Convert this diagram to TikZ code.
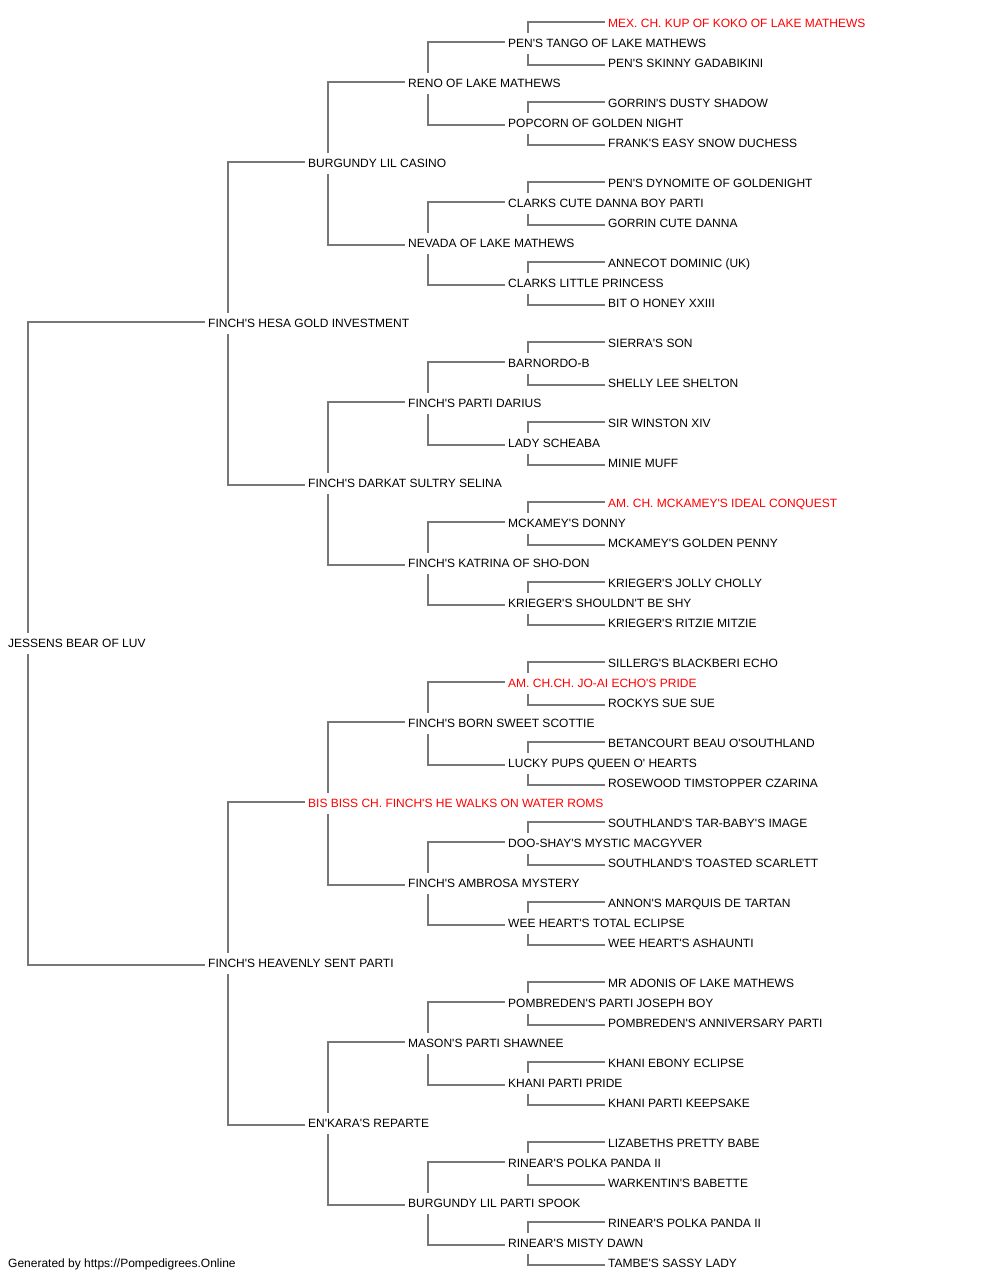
\documentclass[tikz,border=0pt]{standalone}
\usepackage{fontspec}
\setmainfont{Liberation Sans}[Ligatures=TeXOff]
\definecolor{ln}{RGB}{119,119,119}
\definecolor{rd}{RGB}{255,0,0}
\tikzset{
  pn/.style={anchor=west, inner xsep=0pt, inner ysep=5.7pt, text height=8.6pt, text depth=0pt, font=\fontsize{12}{14}\selectfont, text=black},
  rn/.style={pn, text=rd},
  conn/.style={draw=ln, line width=1.3pt}
}
\begin{document}
\begin{tikzpicture}[x=1pt,y=-1pt]
\useasboundingbox (0,0) rectangle (1000,1280);
% generation 0
\node[pn] (p0x0) at (8,643.4) {JESSENS BEAR OF LUV};
% generation 1
\node[pn] (p1x0) at (208,323.4) {FINCH'S HESA GOLD INVESTMENT};
\node[pn] (p1x1) at (208,963.4) {FINCH'S HEAVENLY SENT PARTI};
% generation 2
\node[pn] (p2x0) at (308,163.4) {BURGUNDY LIL CASINO};
\node[pn] (p2x1) at (308,483.4) {FINCH'S DARKAT SULTRY SELINA};
\node[rn] (p2x2) at (308,803.4) {BIS BISS CH. FINCH'S HE WALKS ON WATER ROMS};
\node[pn] (p2x3) at (308,1123.4) {EN'KARA'S REPARTE};
% generation 3
\node[pn] (p3x0) at (408,83.4) {RENO OF LAKE MATHEWS};
\node[pn] (p3x1) at (408,243.4) {NEVADA OF LAKE MATHEWS};
\node[pn] (p3x2) at (408,403.4) {FINCH'S PARTI DARIUS};
\node[pn] (p3x3) at (408,563.4) {FINCH'S KATRINA OF SHO-DON};
\node[pn] (p3x4) at (408,723.4) {FINCH'S BORN SWEET SCOTTIE};
\node[pn] (p3x5) at (408,883.4) {FINCH'S AMBROSA MYSTERY};
\node[pn] (p3x6) at (408,1043.4) {MASON'S PARTI SHAWNEE};
\node[pn] (p3x7) at (408,1203.4) {BURGUNDY LIL PARTI SPOOK};
% generation 4
\node[pn] (p4x0) at (508,43.4) {PEN'S TANGO OF LAKE MATHEWS};
\node[pn] (p4x1) at (508,123.4) {POPCORN OF GOLDEN NIGHT};
\node[pn] (p4x2) at (508,203.4) {CLARKS CUTE DANNA BOY PARTI};
\node[pn] (p4x3) at (508,283.4) {CLARKS LITTLE PRINCESS};
\node[pn] (p4x4) at (508,363.4) {BARNORDO-B};
\node[pn] (p4x5) at (508,443.4) {LADY SCHEABA};
\node[pn] (p4x6) at (508,523.4) {MCKAMEY'S DONNY};
\node[pn] (p4x7) at (508,603.4) {KRIEGER'S SHOULDN'T BE SHY};
\node[rn] (p4x8) at (508,683.4) {AM. CH.CH. JO-AI ECHO'S PRIDE};
\node[pn] (p4x9) at (508,763.4) {LUCKY PUPS QUEEN O' HEARTS};
\node[pn] (p4x10) at (508,843.4) {DOO-SHAY'S MYSTIC MACGYVER};
\node[pn] (p4x11) at (508,923.4) {WEE HEART'S TOTAL ECLIPSE};
\node[pn] (p4x12) at (508,1003.4) {POMBREDEN'S PARTI JOSEPH BOY};
\node[pn] (p4x13) at (508,1083.4) {KHANI PARTI PRIDE};
\node[pn] (p4x14) at (508,1163.4) {RINEAR'S POLKA PANDA II};
\node[pn] (p4x15) at (508,1243.4) {RINEAR'S MISTY DAWN};
% generation 5
\node[rn] (p5x0) at (608,23.4) {MEX. CH. KUP OF KOKO OF LAKE MATHEWS};
\node[pn] (p5x1) at (608,63.4) {PEN'S SKINNY GADABIKINI};
\node[pn] (p5x2) at (608,103.4) {GORRIN'S DUSTY SHADOW};
\node[pn] (p5x3) at (608,143.4) {FRANK'S EASY SNOW DUCHESS};
\node[pn] (p5x4) at (608,183.4) {PEN'S DYNOMITE OF GOLDENIGHT};
\node[pn] (p5x5) at (608,223.4) {GORRIN CUTE DANNA};
\node[pn] (p5x6) at (608,263.4) {ANNECOT DOMINIC (UK)};
\node[pn] (p5x7) at (608,303.4) {BIT O HONEY XXIII};
\node[pn] (p5x8) at (608,343.4) {SIERRA'S SON};
\node[pn] (p5x9) at (608,383.4) {SHELLY LEE SHELTON};
\node[pn] (p5x10) at (608,423.4) {SIR WINSTON XIV};
\node[pn] (p5x11) at (608,463.4) {MINIE MUFF};
\node[rn] (p5x12) at (608,503.4) {AM. CH. MCKAMEY'S IDEAL CONQUEST};
\node[pn] (p5x13) at (608,543.4) {MCKAMEY'S GOLDEN PENNY};
\node[pn] (p5x14) at (608,583.4) {KRIEGER'S JOLLY CHOLLY};
\node[pn] (p5x15) at (608,623.4) {KRIEGER'S RITZIE MITZIE};
\node[pn] (p5x16) at (608,663.4) {SILLERG'S BLACKBERI ECHO};
\node[pn] (p5x17) at (608,703.4) {ROCKYS SUE SUE};
\node[pn] (p5x18) at (608,743.4) {BETANCOURT BEAU O'SOUTHLAND};
\node[pn] (p5x19) at (608,783.4) {ROSEWOOD TIMSTOPPER CZARINA};
\node[pn] (p5x20) at (608,823.4) {SOUTHLAND'S TAR-BABY'S IMAGE};
\node[pn] (p5x21) at (608,863.4) {SOUTHLAND'S TOASTED SCARLETT};
\node[pn] (p5x22) at (608,903.4) {ANNON'S MARQUIS DE TARTAN};
\node[pn] (p5x23) at (608,943.4) {WEE HEART'S ASHAUNTI};
\node[pn] (p5x24) at (608,983.4) {MR ADONIS OF LAKE MATHEWS};
\node[pn] (p5x25) at (608,1023.4) {POMBREDEN'S ANNIVERSARY PARTI};
\node[pn] (p5x26) at (608,1063.4) {KHANI EBONY ECLIPSE};
\node[pn] (p5x27) at (608,1103.4) {KHANI PARTI KEEPSAKE};
\node[pn] (p5x28) at (608,1143.4) {LIZABETHS PRETTY BABE};
\node[pn] (p5x29) at (608,1183.4) {WARKENTIN'S BABETTE};
\node[pn] (p5x30) at (608,1223.4) {RINEAR'S POLKA PANDA II};
\node[pn] (p5x31) at (608,1263.4) {TAMBE'S SASSY LADY};
% footer
\node[pn] (foot) at (8,1263.4) {Generated by https://Pompedigrees.Online};
% connectors
\foreach \g/\m in {0/0,1/1,2/3,3/7,4/15}{
  \pgfmathtruncatemacro\h{\g+1}
  \foreach \i in {0,...,\m}{
    \pgfmathtruncatemacro\a{2*\i}
    \pgfmathtruncatemacro\b{2*\i+1}
    \draw[conn] ([shift={(-3pt,1.4pt)}]p\h x\a.west) -| ([xshift=20pt]p\g x\i.north west);
    \draw[conn] ([shift={(-3pt,-1.6pt)}]p\h x\b.west) -| ([xshift=20pt]p\g x\i.south west);
  }
}
\end{tikzpicture}
\end{document}
